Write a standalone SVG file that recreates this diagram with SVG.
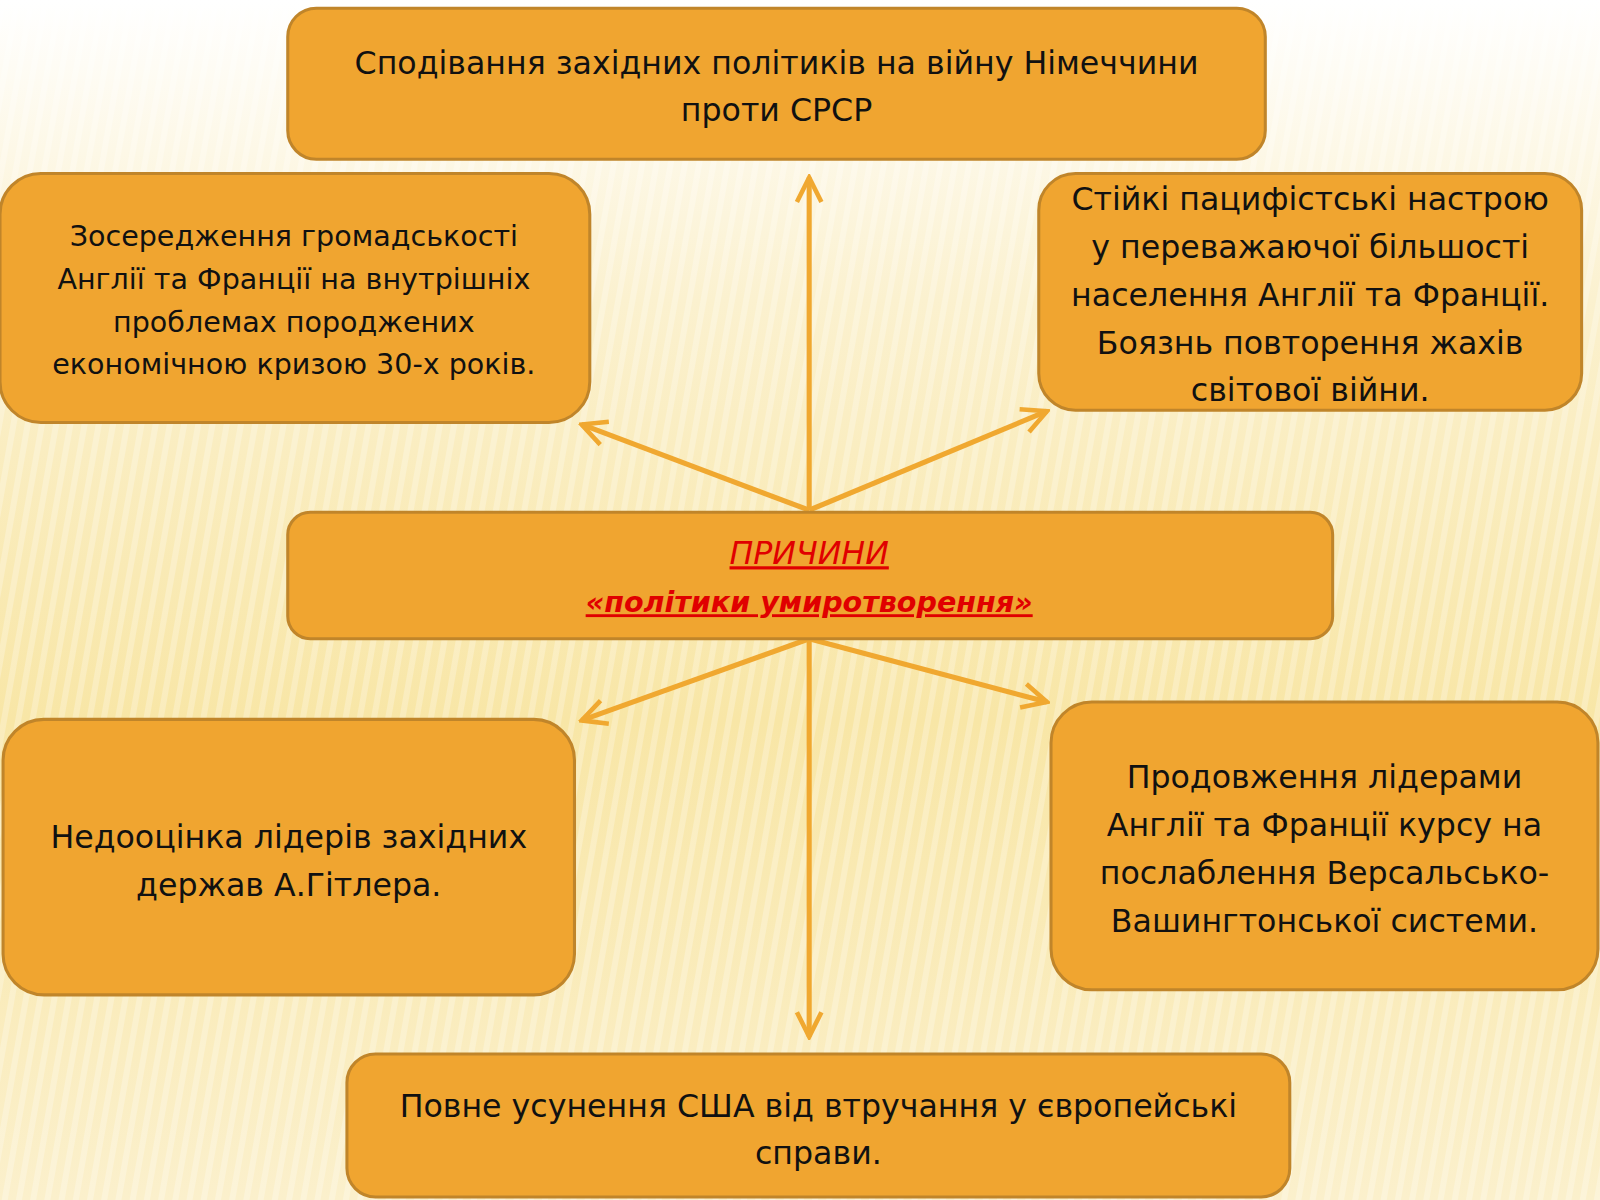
<svg xmlns="http://www.w3.org/2000/svg" width="1600" height="1200" viewBox="0 0 1600 1200">
<defs>
<linearGradient id="bg" x1="0" y1="0" x2="0" y2="1">
<stop offset="0" stop-color="#ffffff"/>
<stop offset="0.25" stop-color="#fbf1cf"/>
<stop offset="0.6" stop-color="#f8e6a6"/>
<stop offset="1" stop-color="#fbf0cc"/>
</linearGradient>
<pattern id="stripes" width="14" height="14" patternUnits="userSpaceOnUse" patternTransform="rotate(10)">
<rect width="6" height="14" fill="#ffffff" opacity="0.25"/>
</pattern>
<marker id="ah" viewBox="0 0 20 20" refX="18" refY="10" markerWidth="6" markerHeight="6" orient="auto" markerUnits="strokeWidth">
<polyline points="2,2 18,10 2,18" fill="none" stroke="#f0a830" stroke-width="3" stroke-linejoin="miter"/>
</marker>
<style>
.box{fill:#f0a530;stroke:#c0852a;stroke-width:3}
.t{font-family:"DejaVu Sans","Liberation Sans",sans-serif;font-size:31px;fill:#111;text-anchor:middle}
.s{font-size:28px}
.ln{stroke:#f0a830;stroke-width:5;fill:none;marker-end:url(#ah)}
</style>
</defs>
<rect width="1600" height="1200" fill="url(#bg)"/>
<rect width="1600" height="1200" fill="url(#stripes)"/>
<g transform="scale(1.0204)">
<g id="connectors">
<line class="ln" x1="793" y1="500" x2="793" y2="174"/>
<line class="ln" x1="793" y1="500" x2="570" y2="416"/>
<line class="ln" x1="793" y1="500" x2="1026" y2="403"/>
<line class="ln" x1="793" y1="626" x2="570" y2="706"/>
<line class="ln" x1="793" y1="626" x2="1026" y2="688"/>
<line class="ln" x1="793" y1="626" x2="793" y2="1016"/>
</g>
<g id="n1"><rect class="box" x="282" y="8" width="958" height="148" rx="28"/>
<text class="t" x="761" y="73">Сподівання західних політиків на війну Німеччини</text>
<text class="t" x="761" y="119">проти СРСР</text></g>
<g id="n2"><rect class="box" x="0" y="170" width="578" height="244" rx="40"/>
<text class="t s" x="288" y="241">Зосередження громадськості</text>
<text class="t s" x="288" y="283">Англії та Франції на внутрішніх</text>
<text class="t s" x="288" y="325">проблемах породжених</text>
<text class="t s" x="288" y="367">економічною кризою 30-х років.</text></g>
<g id="n3"><rect class="box" x="1018" y="170" width="532" height="232" rx="36"/>
<text class="t" x="1284" y="206">Стійкі пацифістські настрою</text>
<text class="t" x="1284" y="253">у переважаючої більшості</text>
<text class="t" x="1284" y="300">населення Англії та Франції.</text>
<text class="t" x="1284" y="347">Боязнь повторення жахів</text>
<text class="t" x="1284" y="393">світової війни.</text></g>
<g id="center"><rect class="box" x="282" y="502" width="1024" height="124" rx="22"/>
<text class="t" x="793" y="553" style="fill:#e00000;font-style:italic;text-decoration:underline">ПРИЧИНИ</text>
<text class="t" x="793" y="600" style="fill:#e00000;font-style:italic;font-weight:bold;text-decoration:underline;font-size:28px">«політики умиротворення»</text></g>
<g id="n5"><rect class="box" x="3" y="705" width="560" height="270" rx="40"/>
<text class="t" x="283" y="831">Недооцінка лідерів західних</text>
<text class="t" x="283" y="878">держав А.Гітлера.</text></g>
<g id="n6"><rect class="box" x="1030" y="688" width="536" height="282" rx="40"/>
<text class="t" x="1298" y="772">Продовження лідерами</text>
<text class="t" x="1298" y="819">Англії та Франції курсу на</text>
<text class="t" x="1298" y="866">послаблення Версальсько-</text>
<text class="t" x="1298" y="913">Вашингтонської системи.</text></g>
<g id="n7"><rect class="box" x="340" y="1033" width="924" height="140" rx="28"/>
<text class="t" x="802" y="1095">Повне усунення США від втручання у європейські</text>
<text class="t" x="802" y="1141">справи.</text></g>
</g>
</svg>
